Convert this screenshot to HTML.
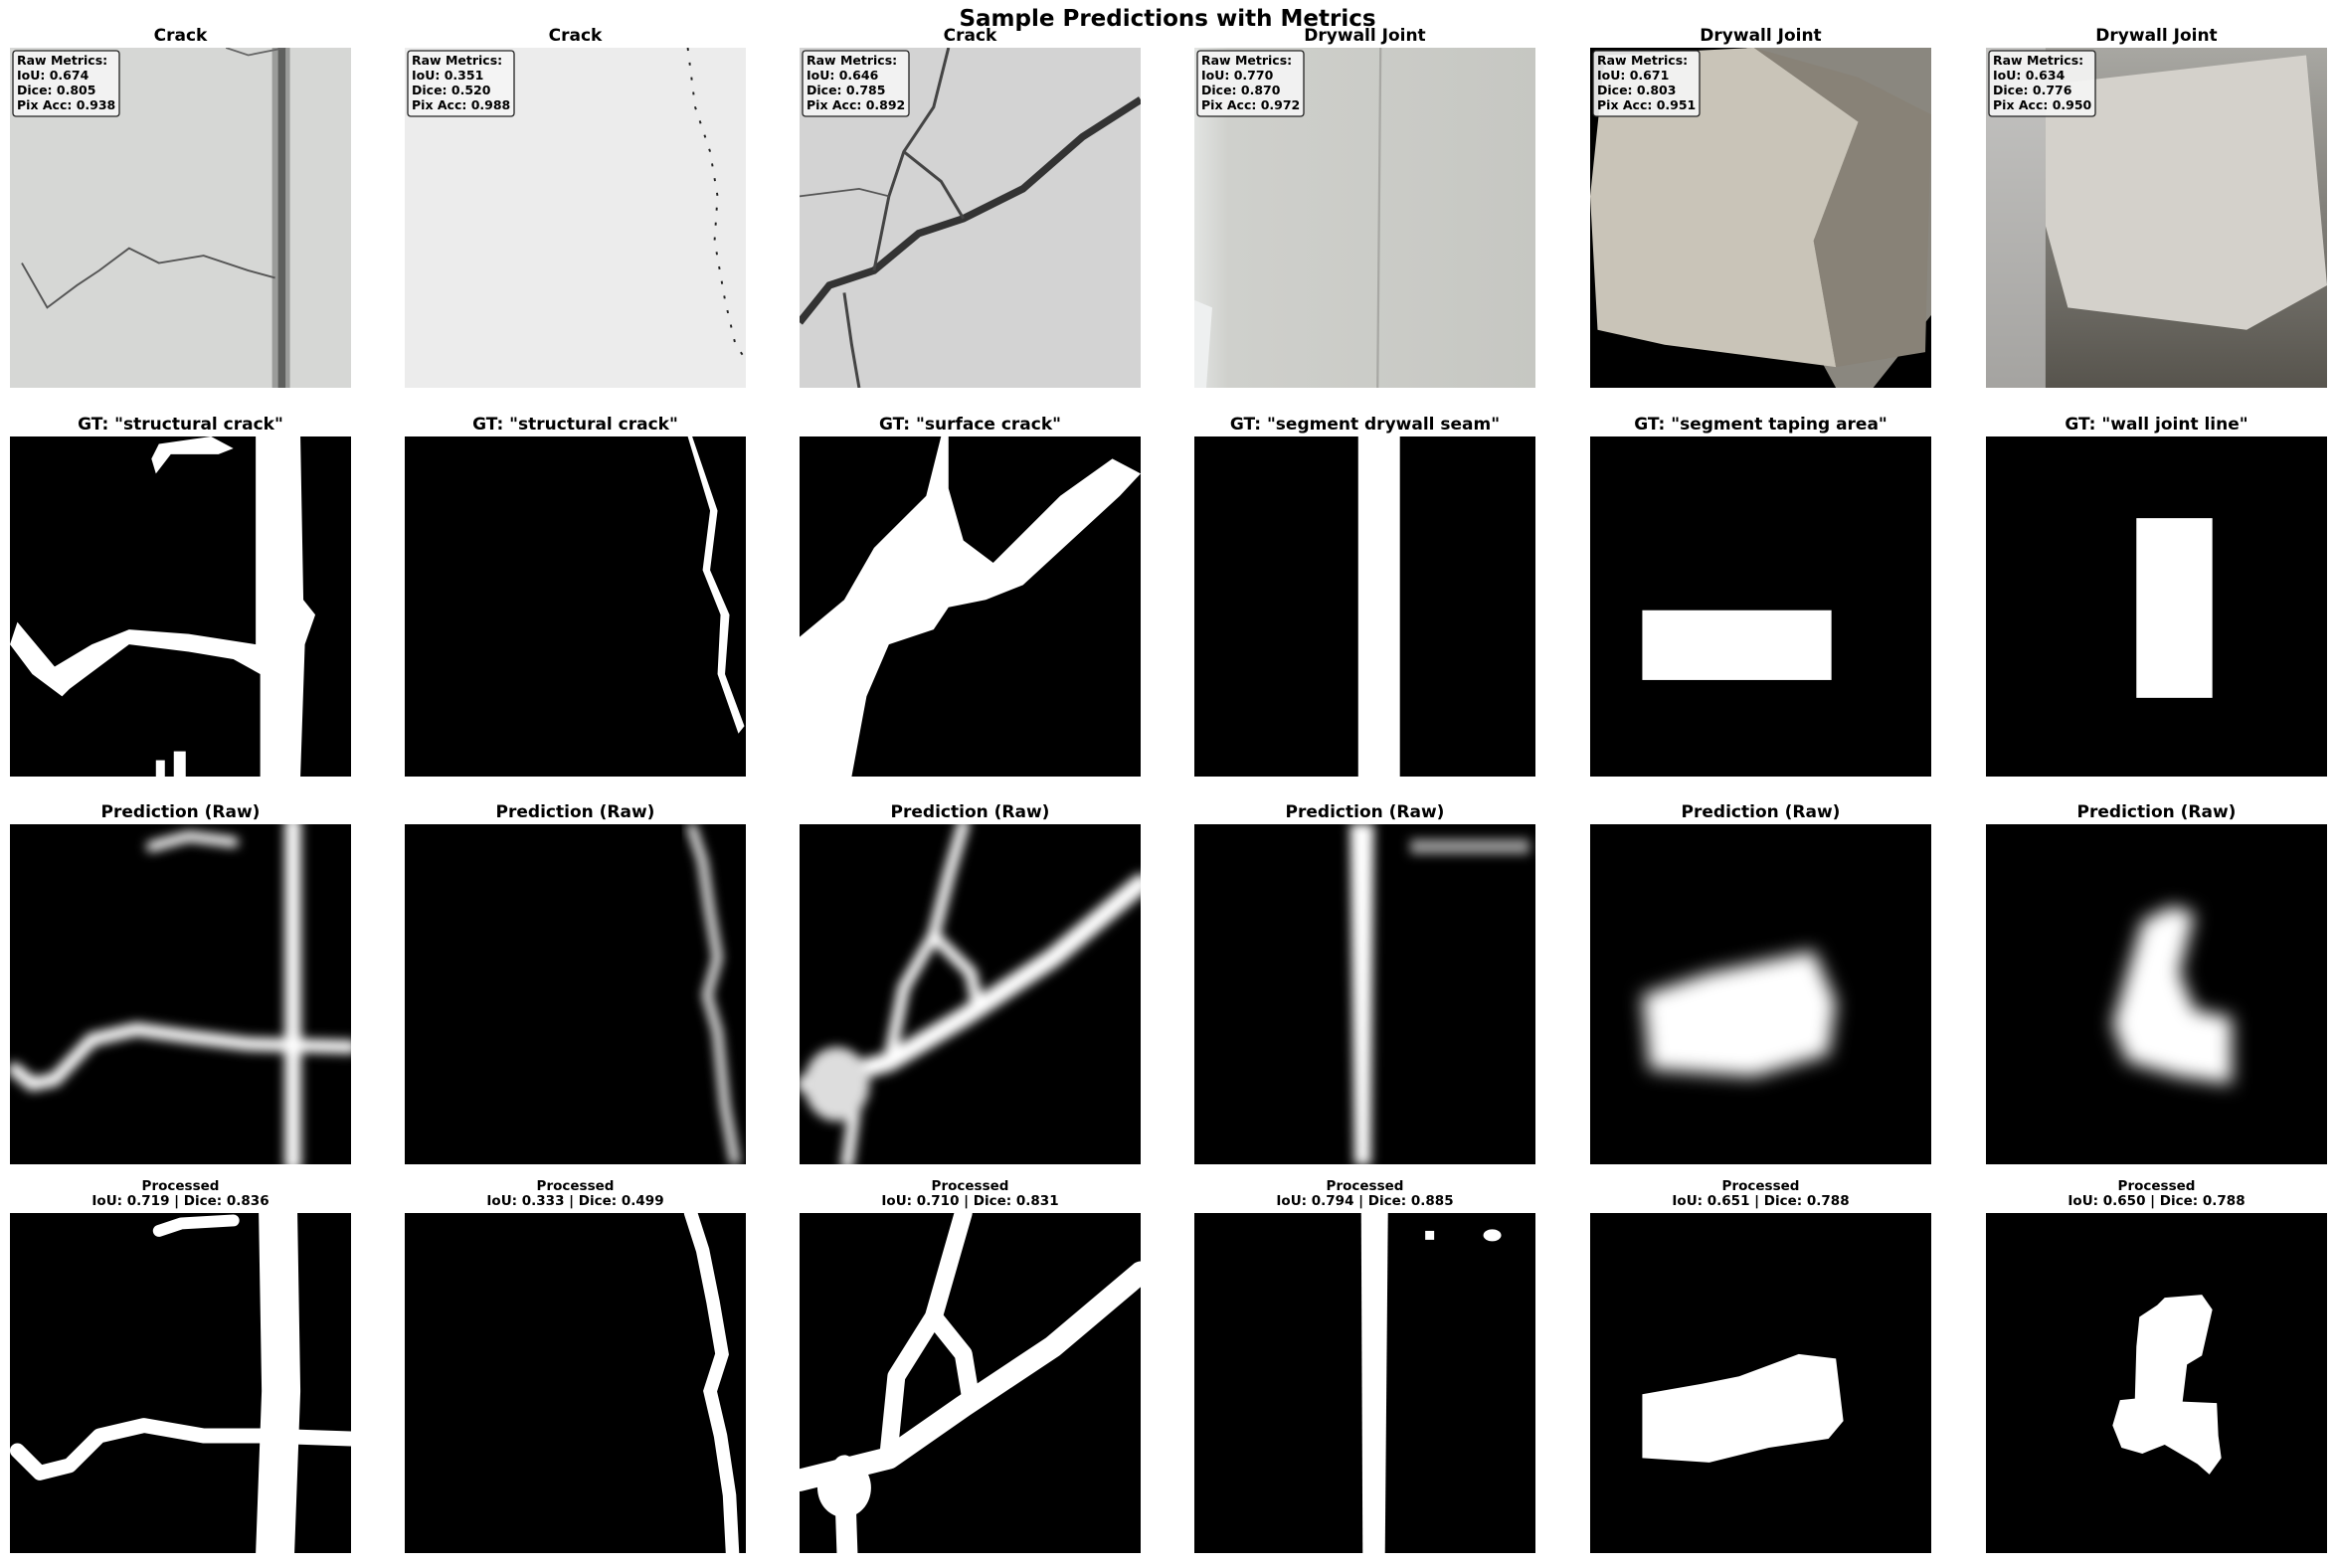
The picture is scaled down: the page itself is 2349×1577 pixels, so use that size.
<!DOCTYPE html>
<html><head><meta charset="utf-8"><style>
html,body{margin:0;padding:0;background:#fff;}
svg text{font-family:"DejaVu Sans","Liberation Sans",sans-serif;font-weight:bold;fill:#000;}
</style></head><body>
<svg id="fig" xmlns="http://www.w3.org/2000/svg" width="2349" height="1572" viewBox="0 0 2349 1572">
<defs>
<filter id="blur" x="-20%" y="-20%" width="140%" height="140%"><feGaussianBlur stdDeviation="3.5"/></filter>
<filter id="blur2" x="-20%" y="-20%" width="140%" height="140%"><feGaussianBlur stdDeviation="6"/></filter>
<linearGradient id="g4" x1="0" x2="1"><stop offset="0" stop-color="#e2e4e2"/><stop offset="0.1" stop-color="#cfd0cc"/><stop offset="1" stop-color="#c6c7c2"/></linearGradient>
<linearGradient id="g6" x1="0" y1="0" x2="0" y2="1"><stop offset="0" stop-color="#a8a7a2"/><stop offset="1" stop-color="#57544d"/></linearGradient>
</defs>
<text x="1174" y="26" font-size="23" text-anchor="middle">Sample Predictions with Metrics</text>
<g id="panels"></g>
</svg>
<script>
const colX = [10, 407, 804, 1201, 1599, 1997];
const rowY = [48, 439, 829, 1220];
const categories = ["Crack","Crack","Crack","Drywall Joint","Drywall Joint","Drywall Joint"];
const prompts = ["structural crack","structural crack","surface crack","segment drywall seam","segment taping area","wall joint line"];
const rawIoU = [0.674,0.351,0.646,0.770,0.671,0.634];
const rawDice = [0.805,0.520,0.785,0.870,0.803,0.776];
const rawPixAcc = [0.938,0.988,0.892,0.972,0.951,0.950];
const procIoU = [0.719,0.333,0.710,0.794,0.651,0.650];
const procDice = [0.836,0.499,0.831,0.885,0.788,0.788];

const imgs = [
 `<rect width="229" height="229" fill="#d6d7d5"/><rect x="176" width="12" height="229" fill="#8c8d8b" opacity=".8"/><rect x="180" width="5" height="229" fill="#5e5f5d"/>
  <polyline points="8,145 25,175 45,160 60,150 80,135 100,145 130,140 160,150 178,155" fill="none" stroke="#555" stroke-width="1.3"/>
  <polyline points="145,0 160,5 185,0" fill="none" stroke="#666" stroke-width="1.2"/>`,
 `<rect width="229" height="229" fill="#ececec"/><polyline points="190,0 195,40 205,70 210,100 208,130 215,170 222,200 229,210" fill="none" stroke="#222" stroke-width="1.3" stroke-dasharray="2 8"/>`,
 `<rect width="229" height="229" fill="#d3d3d3"/>
  <polyline points="0,185 20,160 50,150 80,125 110,115 150,95 190,60 229,35" fill="none" stroke="#333" stroke-width="5"/>
  <polyline points="50,150 60,100 70,70 90,40 100,0" fill="none" stroke="#444" stroke-width="2"/>
  <polyline points="70,70 95,90 110,115" fill="none" stroke="#444" stroke-width="2"/>
  <polyline points="30,165 35,200 40,229" fill="none" stroke="#444" stroke-width="2"/>
  <polyline points="0,100 40,95 60,100" fill="none" stroke="#555" stroke-width="1.2"/>`,
 `<rect width="229" height="229" fill="url(#g4)"/><line x1="125" y1="0" x2="123" y2="229" stroke="#a8a8a4" stroke-width="1.5"/>
  <path d="M0,170 L12,175 L8,229 L0,229Z" fill="#eef0f0"/>`,
 `<rect width="229" height="229" fill="#000"/><path d="M105,0 L229,0 L229,180 L190,229 L150,229 L100,110Z" fill="#8a877f"/>
  <path d="M12,0 L105,0 L100,110 L165,229 L0,229 L0,100Z" fill="#000"/>
  <path d="M10,5 L110,0 L180,50 L150,130 L165,215 L50,200 L5,190 L0,100Z" fill="#c9c4b8"/>
  <path d="M110,0 L180,50 L150,130 L165,215 L225,205 L229,45 L180,20Z" fill="#888277"/>`,
 `<rect width="229" height="229" fill="url(#g6)"/><rect x="0" y="0" width="40" height="229" fill="#d8d8d8" opacity=".6"/>
  <path d="M40,25 L215,5 L229,160 L175,190 L55,175 L40,120Z" fill="#d4d1cb"/>`
];
const gts = [
 `<polygon points="165,0 195,0 197,110 205,120 198,140 195,229 168,229 168,160 150,150 120,145 80,140 60,155 40,170 35,175 15,160 0,140 5,125 30,155 55,140 80,130 120,133 165,140" fill="#fff"/>
  <polygon points="95,15 100,5 135,0 150,8 140,12 108,12 98,25" fill="#fff"/><rect x="98" y="218" width="6" height="11" fill="#fff"/><rect x="110" y="212" width="8" height="17" fill="#fff"/>`,
 `<polygon points="190,0 193,0 210,50 205,90 218,120 215,160 228,195 224,200 210,160 212,120 200,90 205,50" fill="#fff"/>`,
 `<polygon points="0,135 30,110 50,75 85,40 95,0 100,0 100,35 110,70 130,85 175,40 210,15 229,25 215,40 150,100 125,110 100,115 90,130 75,135 60,140 45,175 35,229 0,229" fill="#fff"/>`,
 `<rect x="110" y="0" width="28" height="229" fill="#fff"/>`,
 `<rect x="35" y="117" width="127" height="47" fill="#fff"/>`,
 `<rect x="101" y="55" width="51" height="121" fill="#fff"/>`
];
const raws = [
 `<g filter="url(#blur)" fill="none" stroke="#fff" stroke-linecap="round"><line x1="190" y1="0" x2="190" y2="229" stroke-width="11"/>
  <polyline points="3,165 15,175 30,172 55,145 85,138 120,143 160,148 229,150" stroke-width="9"/><polyline points="95,15 120,8 150,12" stroke-width="7"/></g>`,
 `<g filter="url(#blur)" fill="none" stroke="#fff"><polyline points="192,0 200,25 205,60 210,90 203,115 210,140 215,190 222,229" stroke-width="6"/></g>`,
 `<g filter="url(#blur)" fill="none" stroke="#fff" stroke-linecap="round"><polyline points="5,175 60,160 110,130 170,90 229,40" stroke-width="13"/>
  <polyline points="60,160 70,110 90,75 100,35 110,0" stroke-width="8"/><polyline points="90,75 115,100 120,125" stroke-width="8"/>
  <polyline points="40,170 32,229" stroke-width="8"/><ellipse cx="25" cy="175" rx="22" ry="25" fill="#ddd" stroke="none"/></g>`,
 `<g filter="url(#blur)" fill="#fff" stroke="#fff"><polygon points="105,0 120,0 118,229 108,229"/><rect x="145" y="10" width="80" height="10" opacity=".6" stroke="none"/></g>`,
 `<g filter="url(#blur2)" fill="#fff"><polygon points="35,115 80,100 150,85 165,120 160,155 110,170 40,165" /></g>`,
 `<g filter="url(#blur2)" fill="#fff"><polygon points="105,65 125,55 140,60 130,100 140,125 165,130 165,175 130,170 95,160 85,135 95,100"/></g>`
];
const procs = [
 `<g fill="none" stroke="#fff" stroke-linejoin="round" stroke-linecap="round"><polyline points="180,0 182,120 178,229" stroke-width="26"/>
  <polyline points="5,160 20,175 40,170 60,150 90,143 130,150 170,150 229,152" stroke-width="10"/><polyline points="100,12 115,7 150,5" stroke-width="8"/></g>`,
 `<g fill="none" stroke="#fff" stroke-linecap="round"><polyline points="192,0 200,25 207,60 213,95 205,120 212,150 218,190 220,229" stroke-width="9"/></g>`,
 `<g fill="none" stroke="#fff" stroke-linejoin="round" stroke-linecap="round"><polyline points="0,180 60,165 110,130 170,90 229,40" stroke-width="15"/>
  <polyline points="60,160 65,110 90,70 100,35 110,0" stroke-width="12"/><polyline points="90,70 110,95 115,125" stroke-width="12"/>
  <polyline points="30,170 32,229" stroke-width="14"/><ellipse cx="30" cy="185" rx="18" ry="20" fill="#fff" stroke="none"/></g>`,
 `<g fill="#fff"><polygon points="112,0 130,0 128,229 113,229"/><rect x="155" y="12" width="6" height="6"/><ellipse cx="200" cy="15" rx="6" ry="4"/></g>`,
 `<polygon fill="#fff" points="35,122 75,115 100,110 140,95 165,98 170,140 160,152 120,158 80,168 35,165"/>`,
 `<polygon fill="#fff" points="106,68 115,62 120,57 145,55 152,65 145,96 135,102 132,127 155,128 156,150 158,165 150,176 142,169 120,156 105,162 91,158 85,143 90,126 100,125 101,90 103,70"/>`
];

const root = document.getElementById('panels');
const NS = "http://www.w3.org/2000/svg";
function title(x, y, lines, size, name){
  const t = document.createElementNS(NS,'text');
  
  
  t.setAttribute('x', x); t.setAttribute('y', y);
  t.setAttribute('text-anchor','middle'); t.setAttribute('font-size', size);
  lines.forEach((l,i)=>{ const s=document.createElementNS(NS,'tspan'); s.setAttribute('x',x); s.setAttribute('dy', i?size*1.1:0); s.textContent=l; t.appendChild(s);});
  root.appendChild(t);
}
function panel(x, y, content, name){
  const s = document.createElementNS(NS,'svg');
  
  
  s.setAttribute('x', x); s.setAttribute('y', y); s.setAttribute('width', 343); s.setAttribute('height', 342);
  s.setAttribute('viewBox','0 0 229 229'); s.setAttribute('preserveAspectRatio','none');
  s.innerHTML = `<rect width="229" height="229" fill="#000"/>` + content;
  root.appendChild(s);
}
for (let c=0;c<6;c++){
  const x = colX[c], cx = x+171.5;
  title(cx, rowY[0]-7, [categories[c]], 17, 'input-title-'+(c+1));
  panel(x, rowY[0], imgs[c], 'input-image-'+(c+1));
  const g = document.createElementNS(NS,'g');
  
  
  g.innerHTML = `<rect x="${x+3}" y="${rowY[0]+3}" width="107" height="66" rx="3" fill="#f4f4f4" fill-opacity="0.92" stroke="#222" stroke-width="1.3"/>`+
   `<text x="${x+7}" y="${rowY[0]+17}" font-size="12.5">Raw Metrics:</text>`+
   `<text x="${x+7}" y="${rowY[0]+32}" font-size="12.5">IoU: ${rawIoU[c].toFixed(3)}</text>`+
   `<text x="${x+7}" y="${rowY[0]+47}" font-size="12.5">Dice: ${rawDice[c].toFixed(3)}</text>`+
   `<text x="${x+7}" y="${rowY[0]+62}" font-size="12.5">Pix Acc: ${rawPixAcc[c].toFixed(3)}</text>`;
  root.appendChild(g);
  title(cx, rowY[1]-7, ['GT: "'+prompts[c]+'"'], 17, 'gt-title-'+(c+1));
  panel(x, rowY[1], gts[c], 'gt-mask-'+(c+1));
  title(cx, rowY[2]-7, ['Prediction (Raw)'], 17, 'raw-pred-title-'+(c+1));
  panel(x, rowY[2], raws[c], 'raw-prediction-'+(c+1));
  title(cx, rowY[3]-23, ['Processed','IoU: '+procIoU[c].toFixed(3)+' | Dice: '+procDice[c].toFixed(3)], 13.5, 'processed-title-'+(c+1));
  panel(x, rowY[3], procs[c], 'processed-prediction-'+(c+1));
}
</script>
</body></html>
